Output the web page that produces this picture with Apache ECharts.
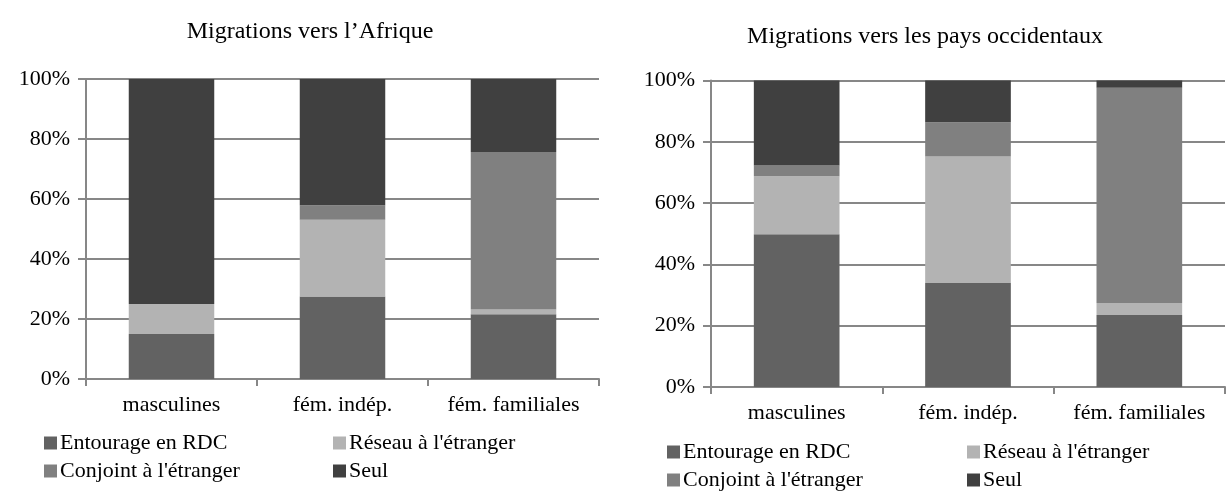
<!DOCTYPE html>
<html><head><meta charset="utf-8">
<script src="https://cdn.jsdelivr.net/npm/echarts@6/dist/echarts.min.js"></script>
<style>html,body{margin:0;padding:0;background:#fff}#c{width:1226px;height:500px}</style>
</head><body><div id="c"></div>
<script>
const categories = ['masculines', 'fém. indép.', 'fém. familiales'];
const seriesNames = ['Entourage en RDC', 'Réseau à l\'étranger', 'Conjoint à l\'étranger', 'Seul'];
const titleAfrique = 'Migrations vers l’Afrique';
const titleOccident = 'Migrations vers les pays occidentaux';
// Migrations vers l'Afrique (%)
const afEntourage = [15, 27.5, 21.6];
const afReseau = [10, 25.6, 1.6];
const afConjoint = [0, 4.8, 52.5];
const afSeul = [75, 42.1, 24.3];
// Migrations vers les pays occidentaux (%)
const ocEntourage = [49.8, 33.9, 23.5];
const ocReseau = [19, 41.3, 3.9];
const ocConjoint = [3.5, 11.2, 70.2];
const ocSeul = [27.7, 13.6, 2.4];
const yTicks = [0, 20, 40, 60, 80, 100];

const colors = ['#626262', '#b3b3b3', '#808080', '#404040'];
const FONT = 'Liberation Serif';
const gray = '#878787';

function yAxis(idx) {
  return {
    gridIndex: idx, type: 'value', min: yTicks[0], max: yTicks[yTicks.length - 1], interval: yTicks[1] - yTicks[0],
    axisLine: { show: true, lineStyle: { color: gray, width: 2 } },
    axisTick: { show: true, length: 8, lineStyle: { color: gray, width: 2 } },
    splitLine: { show: true, lineStyle: { color: gray, width: 2 } },
    axisLabel: { formatter: '{value}%', color: '#000', fontFamily: FONT, fontSize: 22, margin: 16 }
  };
}
function xAxis(idx) {
  return {
    gridIndex: idx, type: 'category', data: categories,
    axisLine: { show: true, lineStyle: { color: gray, width: 2 } },
    axisTick: { show: true, length: 7, lineStyle: { color: gray, width: 2 } },
    axisLabel: { color: '#000', fontFamily: FONT, fontSize: 22, margin: 15, interval: 0, hideOverlap: false }
  };
}
const dataSets = [
  [afEntourage, afReseau, afConjoint, afSeul],
  [ocEntourage, ocReseau, ocConjoint, ocSeul]
];
const series = [];
dataSets.forEach((ds, gi) => {
  ds.forEach((vals, si) => {
    series.push({
      name: seriesNames[si], type: 'bar', stack: 's' + gi,
      xAxisIndex: gi, yAxisIndex: gi, data: vals, barWidth: '50%',
      itemStyle: { color: colors[si] }, silent: true
    });
  });
});
const legendPos = [
  // left chart
  [44, 432], [333, 432], [44, 460], [333, 460],
  // right chart
  [667, 441], [967, 441], [667, 469], [967, 469]
];
const legends = legendPos.map((p, i) => ({
  data: [seriesNames[i % 4]], left: p[0], top: p[1], padding: 0,
  itemWidth: 13, itemHeight: 13, icon: 'rect', selectedMode: false,
  textStyle: { fontFamily: FONT, fontSize: 22, color: '#000', padding: [0, 0, 0, -2] }
}));

const chart = echarts.init(document.getElementById('c'), null, { renderer: 'canvas' });
chart.setOption({
  animation: false,
  color: colors,
  title: [
    { text: titleAfrique, left: 305, top: 15, textAlign: 'center', textStyle: { fontFamily: FONT, fontSize: 24, fontWeight: 'normal', color: '#000' } },
    { text: titleOccident, left: 920, top: 20, textAlign: 'center', textStyle: { fontFamily: FONT, fontSize: 24, fontWeight: 'normal', color: '#000' } }
  ],
  legend: legends,
  grid: [
    { left: 86, right: 627, top: 79, bottom: 121 },
    { left: 711, right: 1, top: 80.5, bottom: 113 }
  ],
  xAxis: [xAxis(0), xAxis(1)],
  yAxis: [yAxis(0), yAxis(1)],
  series: series
});
</script></body></html>
